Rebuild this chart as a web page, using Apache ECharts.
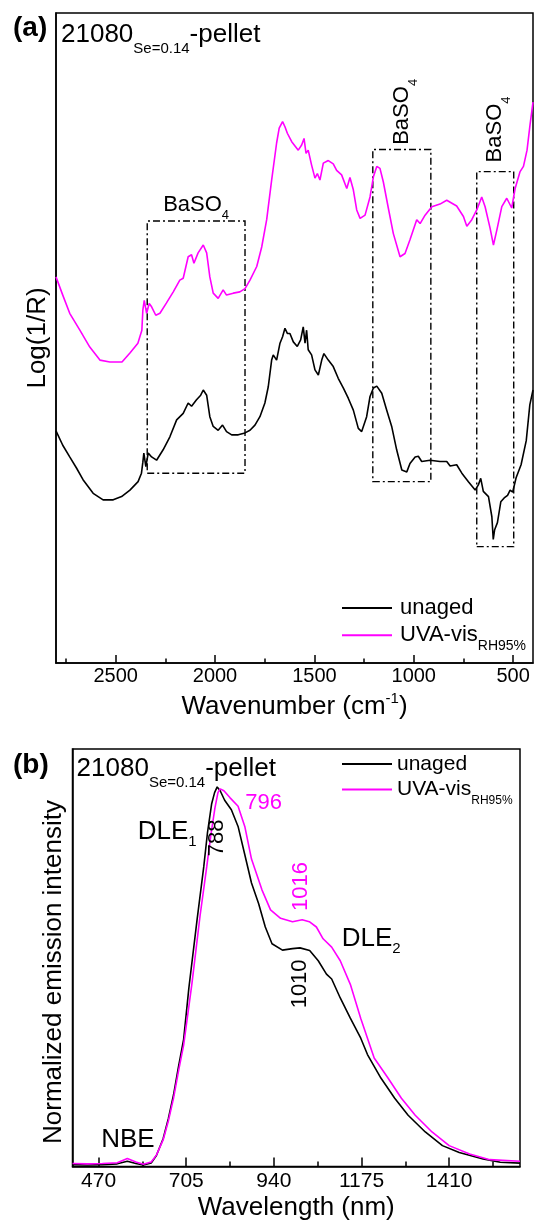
<!DOCTYPE html>
<html>
<head>
<meta charset="utf-8">
<script src="https://cdn.jsdelivr.net/npm/echarts@6/dist/echarts.min.js"></script>
<style>
  html, body { margin: 0; padding: 0; background: #fff; }
  #chart { width: 534px; height: 1222px; }
</style>
</head>
<body>
<div id="chart"></div>
<script>
// ---------- (a) reflectance spectra, Log(1/R) vs wavenumber ----------
const irWavenumberUnaged = [2800, 2766, 2731, 2697, 2664, 2613, 2563, 2512, 2470, 2428,
  2387, 2370, 2363, 2358, 2348, 2336, 2319, 2294, 2261, 2227,
  2193, 2160, 2135, 2118, 2093, 2072, 2059, 2042, 2026, 2009,
  1984, 1962, 1942, 1916, 1883, 1849, 1824, 1799, 1774, 1749,
  1732, 1715, 1707, 1690, 1673, 1660, 1648, 1636, 1623, 1606,
  1586, 1569, 1556, 1547, 1539, 1531, 1514, 1497, 1480, 1463,
  1452, 1430, 1405, 1380, 1354, 1329, 1304, 1279, 1262, 1237,
  1220, 1203, 1186, 1161, 1136, 1111, 1086, 1060, 1035, 1019,
  993, 977, 960, 918, 868, 834, 817, 784, 758, 725,
  691, 675, 663, 650, 624, 607, 600, 593, 579, 562,
  545, 528, 515, 502, 485, 460, 434, 416, 400];
const irLogRUnaged = [3.57, 3.35, 3.17, 3.00, 2.82, 2.61, 2.51, 2.51, 2.56, 2.66,
  2.79, 2.92, 3.09, 3.23, 3.02, 3.23, 3.17, 3.12, 3.28, 3.48,
  3.74, 3.84, 4.00, 3.95, 4.05, 4.12, 4.20, 4.12, 3.79, 3.64,
  3.58, 3.66, 3.56, 3.51, 3.51, 3.54, 3.58, 3.66, 3.79, 4.00,
  4.25, 4.66, 4.74, 4.66, 4.92, 5.02, 5.15, 5.07, 5.07, 4.94,
  4.87, 4.97, 5.17, 4.92, 5.12, 4.82, 4.74, 4.51, 4.43, 4.66,
  4.76, 4.66, 4.56, 4.38, 4.23, 4.07, 3.89, 3.61, 3.56, 3.79,
  4.10, 4.23, 4.26, 4.15, 3.89, 3.64, 3.28, 2.97, 2.94, 3.07,
  3.17, 3.18, 3.10, 3.12, 3.10, 3.10, 3.03, 3.05, 2.92, 2.79,
  2.66, 2.74, 2.84, 2.64, 2.56, 2.25, 1.90, 2.05, 2.16, 2.48,
  2.54, 2.58, 2.66, 2.63, 2.85, 3.05, 3.42, 3.97, 4.20];

const irWavenumberAged = [2800, 2766, 2731, 2680, 2630, 2579, 2529, 2468, 2428, 2388,
  2368, 2363, 2356, 2344, 2331, 2319, 2298, 2277, 2244, 2210,
  2177, 2160, 2135, 2118, 2106, 2085, 2059, 2042, 2026, 2009,
  1984, 1959, 1942, 1908, 1875, 1849, 1824, 1790, 1765, 1740,
  1715, 1690, 1677, 1660, 1648, 1636, 1614, 1581, 1564, 1552,
  1542, 1531, 1514, 1497, 1485, 1472, 1455, 1430, 1405, 1388,
  1363, 1337, 1321, 1304, 1287, 1270, 1245, 1220, 1203, 1186,
  1170, 1153, 1128, 1103, 1069, 1044, 1019, 985, 968, 943,
  909, 868, 834, 784, 750, 733, 708, 683, 658, 641,
  616, 599, 582, 557, 532, 507, 490, 465, 448, 430,
  415, 400];
const irLogRAged = [5.94, 5.66, 5.38, 5.12, 4.86, 4.66, 4.63, 4.63, 4.77, 4.92,
  5.12, 5.43, 5.58, 5.38, 5.53, 5.48, 5.35, 5.38, 5.54, 5.71,
  5.89, 5.92, 6.25, 6.28, 6.15, 6.31, 6.43, 6.31, 5.94, 5.69,
  5.61, 5.74, 5.66, 5.69, 5.71, 5.76, 5.89, 6.10, 6.40, 6.82,
  7.43, 8.00, 8.23, 8.33, 8.25, 8.15, 8.02, 7.89, 7.97, 8.07,
  7.84, 7.89, 7.66, 7.46, 7.53, 7.43, 7.69, 7.73, 7.68, 7.58,
  7.51, 7.30, 7.47, 7.28, 6.97, 6.84, 6.89, 7.17, 7.48, 7.64,
  7.61, 7.40, 7.00, 6.61, 6.25, 6.30, 6.51, 6.82, 6.76, 6.89,
  7.02, 7.06, 7.12, 7.03, 6.87, 6.72, 6.82, 6.97, 7.17, 7.02,
  6.69, 6.43, 6.66, 7.02, 7.15, 7.00, 7.30, 7.56, 7.64, 7.89,
  8.28, 8.63];

// BaSO4 bands: [high, low] wavenumber edges and the box heights
const baso4BandEdges = [[2341, 1849], [1206, 914], [683, 497]];
const baso4BandBottom = [2.92, 2.79, 1.79];
const baso4BandTop = [6.80, 7.90, 7.56];

const irMajorTicks = [500, 1000, 1500, 2000, 2500];
const irMinorTicks = [750, 1250, 1750, 2250, 2750];

// ---------- (b) photoluminescence, normalized intensity vs wavelength ----------
const plWavelengthUnaged = [400, 440, 480, 520, 547, 570, 590, 611, 625, 643,
  657, 671, 684, 698, 712, 734, 752, 762, 773, 781,
  788, 796, 808, 826, 844, 860, 880, 899, 917, 935,
  963, 990, 1010, 1036, 1059, 1081, 1095, 1118, 1145, 1173,
  1191, 1227, 1264, 1300, 1346, 1392, 1437, 1501, 1547, 1600];
const plIntensityUnaged = [0.005, 0.004, 0.005, 0.007, 0.014, 0.008, 0.004, 0.009, 0.029, 0.073,
  0.126, 0.189, 0.262, 0.335, 0.47, 0.65, 0.79, 0.88, 0.955, 0.985,
  1.0, 0.99, 0.965, 0.94, 0.896, 0.83, 0.747, 0.693, 0.631, 0.587,
  0.570, 0.574, 0.576, 0.569, 0.542, 0.507, 0.494, 0.444, 0.391, 0.338,
  0.295, 0.233, 0.18, 0.135, 0.091, 0.055, 0.037, 0.02, 0.011, 0.009];

const plWavelengthAged = [400, 440, 480, 520, 547, 570, 590, 611, 625, 643,
  657, 671, 684, 698, 720, 742, 760, 772, 782, 790,
  796, 806, 822, 844, 862, 880, 908, 931, 958, 990,
  1016, 1035, 1054, 1072, 1095, 1118, 1145, 1173, 1209, 1246,
  1282, 1319, 1364, 1410, 1465, 1519, 1600];
const plIntensityAged = [0.008, 0.007, 0.008, 0.01, 0.021, 0.012, 0.006, 0.012, 0.03, 0.07,
  0.12, 0.18, 0.25, 0.32, 0.48, 0.66, 0.79, 0.88, 0.945, 0.985,
  0.995, 0.99, 0.972, 0.949, 0.896, 0.81, 0.729, 0.676, 0.654, 0.645,
  0.65, 0.645, 0.631, 0.6, 0.578, 0.542, 0.48, 0.39, 0.286, 0.233,
  0.18, 0.135, 0.091, 0.055, 0.033, 0.018, 0.014];

const plPeakUnaged = 788, plShoulderUnaged = 1010;
const plPeakAged = 796, plShoulderAged = 1016;

const plMajorTicks = [470, 705, 940, 1175, 1410];
const plMinorTicks = [587.5, 822.5, 1057.5, 1292.5, 1527.5];

// ---------- styling helpers ----------
const FONT = "'Liberation Sans', Arial, Helvetica, sans-serif";
const BLACK = '#000000';
const MAGENTA = '#ff00ff';

const pairs = (xs, ys) => xs.map((x, i) => [x, ys[i]]);
const valueAt = (xs, ys, x) => ys[xs.indexOf(x)];
const plainNumber = v => String(v);

// rich token styles for ECharts labels (color) and for raw graphic text (fill)
const tok = (size, color, extra) => Object.assign({ fontFamily: FONT, fontSize: size, lineHeight: size, color: color || BLACK }, extra || {});
const subTok = (size, drop, color) => tok(size, color, { padding: [drop, 0, 0, 0] });
const supTok = (size, rise, color) => tok(size, color, { padding: [0, 0, rise, 0] });
const gTok = (size, color, extra) => Object.assign({ fontFamily: FONT, fontSize: size, lineHeight: size, fill: color || BLACK }, extra || {});

const legendLabel = name => name === 'unaged' ? '{m|unaged}' : '{m|UVA-vis}{s|RH95%}';

const bandLabelBase = { show: true, color: BLACK, formatter: '{m|BaSO}{s|4}',
  rich: { m: tok(22), s: subTok(13, 22.2) } };
const bandLabels = [
  Object.assign({}, bandLabelBase, { position: 'top', distance: 4.7 }),
  Object.assign({}, bandLabelBase, { position: 'top', rotate: 90, align: 'left', verticalAlign: 'middle', distance: 4 }),
  Object.assign({}, bandLabelBase, { position: 'top', rotate: 90, align: 'left', verticalAlign: 'middle', distance: 8.5 })
];
const bandAreas = baso4BandEdges.map((edges, i) => [
  { xAxis: edges[0], yAxis: baso4BandBottom[i], label: bandLabels[i] },
  { xAxis: edges[1], yAxis: baso4BandTop[i] }
]);

// label offsets are given in screen pixels; a label turned by 90° takes its
// offset in the turned frame, so swap the components accordingly
const turnedOffset = (rotate, dx, dy) => rotate === 90 ? [-dy, dx] : [dx, dy];
const valueLabel = (text, color, rotate, dx, dy) => ({
  show: true, position: 'inside', formatter: String(text), color: color,
  fontFamily: FONT, fontSize: 22, rotate: rotate, offset: turnedOffset(rotate, dx, dy),
  align: 'center', verticalAlign: 'middle'
});
const dleRich = { m: tok(26), s: subTok(15, 21.6) };
const textLabel = (text) => ({
  show: true, position: 'inside', formatter: text, color: BLACK,
  align: 'left', verticalAlign: 'middle', rich: dleRich
});

const axisLineStyle = { color: BLACK, width: 1.5 };

const option = {
  animation: false,
  textStyle: { fontFamily: FONT, color: BLACK },
  grid: [
    { left: 56, top: 13, width: 477, height: 650, show: true, borderColor: BLACK, borderWidth: 1.5, backgroundColor: 'transparent' },
    { left: 72.5, top: 749, width: 447.5, height: 421, show: true, borderColor: BLACK, borderWidth: 1.5, backgroundColor: 'transparent' }
  ],
  xAxis: [
    { gridIndex: 0, type: 'value', min: 400, max: 2800, inverse: true, position: 'bottom',
      axisLine: { show: true, lineStyle: axisLineStyle },
      axisTick: { show: true, inside: true, length: 8, customValues: irMajorTicks, lineStyle: axisLineStyle },
      axisLabel: { show: true, customValues: irMajorTicks, formatter: plainNumber, color: BLACK, fontFamily: FONT, fontSize: 20, margin: 3 },
      splitLine: { show: false },
      name: '{m|Wavenumber (cm}{p|-1}{m|)}', nameLocation: 'middle', nameGap: 29.4,
      nameTextStyle: { rich: { m: tok(26), p: supTok(15, 16.4) } } },
    { gridIndex: 0, type: 'value', min: 400, max: 2800, inverse: true, position: 'bottom',
      axisLine: { show: false }, axisLabel: { show: false }, splitLine: { show: false },
      axisTick: { show: true, inside: true, length: 4.5, customValues: irMinorTicks, lineStyle: axisLineStyle } },
    { gridIndex: 1, type: 'value', min: 400, max: 1600, position: 'bottom',
      axisLine: { show: true, lineStyle: axisLineStyle },
      axisTick: { show: true, inside: true, length: 9, customValues: plMajorTicks, lineStyle: axisLineStyle },
      axisLabel: { show: true, customValues: plMajorTicks, formatter: plainNumber, color: BLACK, fontFamily: FONT, fontSize: 21, margin: 4 },
      splitLine: { show: false },
      name: 'Wavelength (nm)', nameLocation: 'middle', nameGap: 28.5,
      nameTextStyle: { color: BLACK, fontFamily: FONT, fontSize: 26, lineHeight: 26 } },
    { gridIndex: 1, type: 'value', min: 400, max: 1600, position: 'bottom',
      axisLine: { show: false }, axisLabel: { show: false }, splitLine: { show: false },
      axisTick: { show: true, inside: true, length: 5, customValues: plMinorTicks, lineStyle: axisLineStyle } }
  ],
  yAxis: [
    { gridIndex: 0, type: 'value', min: 0, max: 10,
      axisLine: { show: true, lineStyle: axisLineStyle }, axisTick: { show: false },
      axisLabel: { show: false }, splitLine: { show: false } },
    { gridIndex: 1, type: 'value', min: 0, max: 1.1,
      axisLine: { show: true, lineStyle: axisLineStyle }, axisTick: { show: false },
      axisLabel: { show: false }, splitLine: { show: false } }
  ],
  legend: [
    { orient: 'vertical', left: 342, top: 597, padding: 0, itemGap: -2,
      itemWidth: 50, itemHeight: 2, icon: 'rect', selectedMode: false,
      data: ['unaged', 'UVA-vis'], formatter: legendLabel,
      textStyle: { rich: { m: tok(22, BLACK, { padding: [0, 0, 0, 3] }), s: subTok(14, 22.5) } } },
    { orient: 'vertical', left: 342, top: 753.5, padding: 0, itemGap: -2,
      itemWidth: 50, itemHeight: 2, icon: 'rect', selectedMode: false,
      data: ['unaged', 'UVA-vis'], formatter: legendLabel,
      textStyle: { rich: { m: tok(21), s: subTok(12, 22.2) } } }
  ],
  series: [
    { name: 'unaged', type: 'line', xAxisIndex: 0, yAxisIndex: 0,
      data: pairs(irWavenumberUnaged, irLogRUnaged), showSymbol: false, symbol: 'none',
      color: BLACK, lineStyle: { color: BLACK, width: 1.6 }, silent: true,
      markArea: { silent: true,
        itemStyle: { color: 'rgba(0,0,0,0)', borderColor: BLACK, borderWidth: 1.4, borderType: [7, 3, 2, 3] },
        data: bandAreas } },
    { name: 'UVA-vis', type: 'line', xAxisIndex: 0, yAxisIndex: 0,
      data: pairs(irWavenumberAged, irLogRAged), showSymbol: false, symbol: 'none',
      color: MAGENTA, lineStyle: { color: MAGENTA, width: 1.6 }, silent: true },
    { name: 'unaged', type: 'line', xAxisIndex: 2, yAxisIndex: 1,
      data: pairs(plWavelengthUnaged, plIntensityUnaged), showSymbol: false, symbol: 'none',
      color: BLACK, lineStyle: { color: BLACK, width: 1.6 }, silent: true,
      markPoint: { silent: true, symbol: 'circle', symbolSize: 1, itemStyle: { color: 'rgba(0,0,0,0)' },
        data: [
          { coord: [plPeakUnaged, valueAt(plWavelengthUnaged, plIntensityUnaged, plPeakUnaged)],
            label: valueLabel(plPeakUnaged, BLACK, 90, 0, 51) },
          { coord: [plShoulderUnaged, valueAt(plWavelengthUnaged, plIntensityUnaged, plShoulderUnaged)],
            label: valueLabel(plShoulderUnaged, BLACK, 90, 0, 36) },
          { coord: [575, 0.883], label: textLabel('{m|DLE}{s|1}') },
          { coord: [1122, 0.601], label: textLabel('{m|DLE}{s|2}') },
          { coord: [477, 0.07], label: textLabel('{m|NBE}') }
        ] } },
    { name: 'UVA-vis', type: 'line', xAxisIndex: 2, yAxisIndex: 1,
      data: pairs(plWavelengthAged, plIntensityAged), showSymbol: false, symbol: 'none',
      color: MAGENTA, lineStyle: { color: MAGENTA, width: 1.6 }, silent: true,
      markPoint: { silent: true, symbol: 'circle', symbolSize: 1, itemStyle: { color: 'rgba(0,0,0,0)' },
        data: [
          { coord: [plPeakAged, valueAt(plWavelengthAged, plIntensityAged, plPeakAged)],
            label: valueLabel(plPeakAged, MAGENTA, 0, 43.5, 13.7) },
          { coord: [plShoulderAged, valueAt(plWavelengthAged, plIntensityAged, plShoulderAged)],
            label: valueLabel(plShoulderAged, MAGENTA, 90, -1.6, -33.2) }
        ] } }
  ],
  graphic: [
    { type: 'text', x: 13, y: 28, z: 10,
      style: { text: '(a)', font: 'bold 28px ' + FONT, fill: BLACK, align: 'left', verticalAlign: 'middle' } },
    { type: 'text', x: 61, y: 35.3, z: 10,
      style: { text: '{m|21080}{s|Se=0.14}{m|-pellet}', fill: BLACK, align: 'left', verticalAlign: 'middle',
        rich: { m: gTok(26), s: gTok(15, BLACK, { padding: [28, 0, 0, 0] }) } } },
    { type: 'text', x: 37.5, y: 338, rotation: Math.PI / 2, z: 10,
      style: { text: 'Log(1/R)', font: '26px ' + FONT, fill: BLACK, align: 'center', verticalAlign: 'middle' } },
    { type: 'text', x: 13, y: 765, z: 10,
      style: { text: '(b)', font: 'bold 28px ' + FONT, fill: BLACK, align: 'left', verticalAlign: 'middle' } },
    { type: 'text', x: 76.6, y: 768.7, z: 10,
      style: { text: '{m|21080}{s|Se=0.14}{m|-pellet}', fill: BLACK, align: 'left', verticalAlign: 'middle',
        rich: { m: gTok(26), s: gTok(15, BLACK, { padding: [28, 0, 0, 0] }) } } },
    { type: 'text', x: 54, y: 972, rotation: Math.PI / 2, z: 10,
      style: { text: 'Normalized emission intensity', font: '26px ' + FONT, fill: BLACK, align: 'center', verticalAlign: 'middle' } }
  ]
};

const chart = echarts.init(document.getElementById('chart'), null, { renderer: 'canvas' });
chart.setOption(option);
</script>
</body>
</html>
